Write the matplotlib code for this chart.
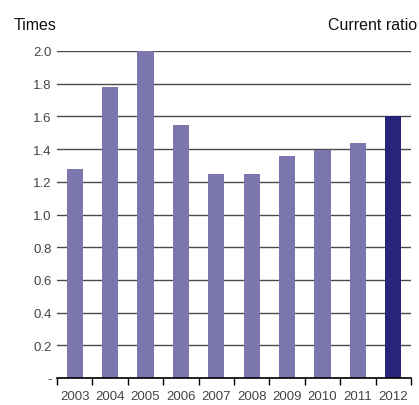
import matplotlib
matplotlib.use("Agg")
import matplotlib.pyplot as plt
import numpy as np

years = ["2003", "2004", "2005", "2006", "2007", "2008", "2009", "2010", "2011", "2012"]
ratios = [1.28, 1.78, 2.00, 1.55, 1.25, 1.245, 1.355, 1.395, 1.44, 1.60]
ytick_vals = [0.0, 0.2, 0.4, 0.6, 0.8, 1.0, 1.2, 1.4, 1.6, 1.8, 2.0]
ytick_labels = ["-", "0.2", "0.4", "0.6", "0.8", "1.0", "1.2", "1.4", "1.6", "1.8", "2.0"]
bar_colors = ["#7b77ae"] * 9 + ["#27257a"]

fam = ["Liberation Sans", "DejaVu Sans"]

fig = plt.figure(figsize=(4.19, 4.06), dpi=100)
ax = fig.add_axes([57/419, 27/406, (411-57)/419, (379-52)/406])

x = np.arange(len(years))
ax.bar(x, ratios, width=0.46, color=bar_colors, zorder=2)

ax.set_xlim(-0.5, len(years) - 0.5)
ax.set_ylim(0, 2.0)

ax.set_yticks(ytick_vals)
ax.set_yticklabels(ytick_labels)
ax.yaxis.grid(True, color="#4a4a4a", linewidth=1.0, zorder=0)
ax.set_axisbelow(True)

ax.set_xticks(x)
ax.set_xticklabels(years)
ax.set_xticks(np.arange(-0.5, len(years), 1.0), minor=True)
ax.tick_params(axis="x", which="major", length=0, pad=9)
ax.tick_params(axis="x", which="minor", length=5, width=1, color="black", direction="out")
ax.tick_params(axis="y", length=0, pad=4)

for lab in ax.get_xticklabels() + ax.get_yticklabels():
    lab.set_family(fam)
    lab.set_fontsize(9.5)
    lab.set_color("#444444")

for s in ["top", "right", "left"]:
    ax.spines[s].set_visible(False)
ax.spines["bottom"].set_color("black")
ax.spines["bottom"].set_linewidth(1.2)
ax.spines["bottom"].set_zorder(3)

fig.text(14/419, 1 - 25/406, "Times", family=fam, fontsize=11.5,
         color="#111111", ha="left", va="center")
fig.text(417/419, 1 - 25/406, "Current ratio", family=fam, fontsize=11.5,
         color="#111111", ha="right", va="center")

fig.savefig("out.png", dpi=100)
